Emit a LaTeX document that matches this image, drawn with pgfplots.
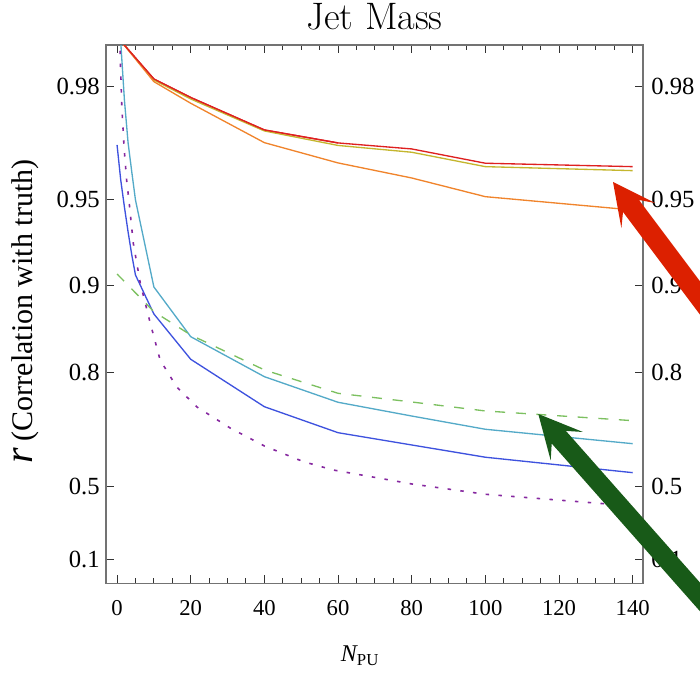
\documentclass[border=0pt]{standalone}
\usepackage{fontspec}
\newfontfamily\tms{Liberation Serif}
\usepackage{pgfplots}
\pgfplotsset{compat=1.18}
\definecolor{cRed}{RGB}{222,32,32}
\definecolor{cOlive}{RGB}{196,182,46}
\definecolor{cOrange}{RGB}{240,132,44}
\definecolor{cTeal}{RGB}{84,170,200}
\definecolor{cBlue}{RGB}{62,82,222}
\definecolor{cGreen}{RGB}{124,192,96}
\definecolor{cPurple}{RGB}{134,40,160}
\definecolor{aRed}{RGB}{220,32,0}
\definecolor{aGreen}{RGB}{24,90,24}
\pgfplotsset{
  jmtrafo/.style={
    y coord trafo/.code={\pgfmathparse{-log10(1-(##1))}},
    y coord inv trafo/.code={\pgfmathparse{1-10^(-(##1))}},
  },
  jmbase/.style={
    at={(79.5pt,67.275pt)}, anchor=south west,
    scale only axis, width=402.75pt, height=403.7pt,
    xmin=-3, xmax=142.8,
    ymin=-0.0924, ymax=0.98554,
    jmtrafo,
    ytick={0.1,0.5,0.8,0.9,0.95,0.98},
    yticklabels={0.1,0.5,0.8,0.9,0.95,0.98},
  },
}
\begin{document}
\begin{tikzpicture}
\path[use as bounding box] (0,0) rectangle (525pt,504.75pt);
\begin{axis}[
  jmbase,
  axis line style={draw=black!55, line width=0.9pt},
  tick align=inside,
  major tick length=6pt, minor tick length=3.6pt,
  tick style={draw=black!80, line width=0.7pt},
  xtick={0,20,...,140},
  minor x tick num=3,
  xticklabel style={font=\tms\fontsize{17}{20}\selectfont, anchor=north, inner sep=0pt, yshift=-12.5pt},
  /pgf/number format/assume math mode=true,
  yticklabel pos=left,
  yticklabel style={font=\tms\fontsize{18.5}{22}\selectfont, anchor=east, inner sep=0pt, xshift=-4.5pt},
  title={Jet Mass},
  title style={font=\fontsize{28.7}{34}\selectfont, at={(axis description cs:0.5,1)}, anchor=base, inner sep=0pt, yshift=6pt},
  xlabel={{\tms\itshape N}\textsubscript{\tms PU}},
  xlabel style={font=\tms\fontsize{18}{22}\selectfont, at={(axis description cs:0.473,-0.146)}, anchor=base, inner sep=0pt},
  ylabel={{\tms\itshape\fontsize{30}{32}\selectfont r}\hspace{0.5em}{\tms\fontsize{22.5}{26}\selectfont (Correlation with truth)}},
  ylabel style={at={(axis description cs:-0.136,0.505)}, anchor=base, inner sep=0pt},
]
% red
\addplot[cRed, line width=1pt] coordinates {
(1,0.9860) (10,0.9810) (20,0.97795) (40,0.97138) (60,0.96823) (80,0.96666) (100,0.96260) (140,0.96156)};
% olive
\addplot[cOlive, line width=1pt] coordinates {
(1,0.9860) (10,0.98084) (20,0.97768) (40,0.97115) (60,0.96758) (80,0.96576) (100,0.96156) (140,0.96030)};
% orange
\addplot[cOrange, line width=1pt] coordinates {
(1,0.9860) (10,0.98058) (20,0.97690) (40,0.96830) (60,0.96269) (80,0.95790) (100,0.95108) (140,0.94556)};
% red on top of olive at start
\addplot[cRed, line width=1pt] coordinates {
(1,0.9860) (10,0.9810) (20,0.97795) (40,0.97138) (60,0.96823)};
% teal
\addplot[cTeal, line width=1pt] coordinates {
(1,0.98588) (2,0.97750) (3,0.96823) (4,0.95988) (5,0.94977) (10,0.89895) (20,0.84934) (40,0.79226) (60,0.74483) (80,0.71503) (100,0.68303) (140,0.64412)};
% blue
\addplot[cBlue, line width=1pt] coordinates {
(0,0.96771) (1,0.95722) (2,0.94686) (3,0.93504) (4,0.92186) (5,0.90823) (10,0.87447) (20,0.81934) (40,0.73557) (60,0.67421) (80,0.64041) (100,0.60316) (140,0.55084)};
% green dashed
\addplot[cGreen, line width=1pt, dash pattern=on 7.5pt off 8pt] coordinates {
(0,0.90897) (10,0.87679) (20,0.85141) (40,0.80317) (60,0.76259) (80,0.74542) (100,0.72638) (140,0.70420)};
% purple dotted
\addplot[cPurple, line width=1.2pt, dash pattern=on 2.6pt off 7pt] coordinates {
(0.7,0.98633) (1.3,0.97621) (1.9,0.96719) (2.6,0.95722) (3.3,0.94855) (4.4,0.92904) (6.3,0.90214) (9.0,0.86509) (11.7,0.81830) (16.2,0.77435) (21.7,0.73496) (30.7,0.68630) (40,0.63750) (50.6,0.58876) (58.7,0.56035) (80,0.50818) (100,0.46566) (140,0.41292)};
\end{axis}
\begin{axis}[
  jmbase,
  axis x line=none,
  axis y line*=right,
  y axis line style={draw=none},
  ytick style={draw=none},
  yticklabel style={font=\tms\fontsize{18.5}{22}\selectfont, anchor=west, inner sep=0pt, xshift=6pt},
]
\addplot[draw=none] coordinates {(0,0.5)};
\end{axis}
\begin{scope}[x=0.75pt, y=-0.75pt, shift={(0pt,504.75pt)}]
\fill[aRed] (613,182) -- (621.4,228.2) -- (623,212) -- (755,388) -- (771,376) -- (639,200) -- (655,203) -- cycle;
\fill[aGreen] (538.3,414) -- (550.7,460.4) -- (551.7,443.5) -- (729.8,645) -- (744,632.4) -- (565.9,430.9) -- (582.9,432) -- cycle;
\end{scope}
\end{tikzpicture}
\end{document}
